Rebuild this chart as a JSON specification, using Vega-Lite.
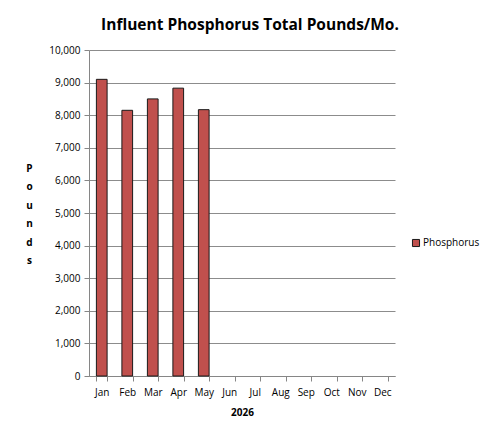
{
  "$schema": "https://vega.github.io/schema/vega-lite/v6.json",
  "width": 306,
  "height": 326,
  "autosize": {"type": "none"},
  "padding": {"left": 89, "top": 50, "right": 92, "bottom": 55},
  "background": "white",
  "title": {
    "text": "Influent Phosphorus Total Pounds/Mo.",
    "font": "Open Sans",
    "fontSize": 15.5,
    "fontWeight": "bold",
    "color": "#000000",
    "anchor": "middle",
    "dx": 8,
    "offset": 12
  },
  "data": {
    "values": [
      {"month": "Jan", "series": "Phosphorus", "pounds": 9100},
      {"month": "Feb", "series": "Phosphorus", "pounds": 8150},
      {"month": "Mar", "series": "Phosphorus", "pounds": 8500},
      {"month": "Apr", "series": "Phosphorus", "pounds": 8830},
      {"month": "May", "series": "Phosphorus", "pounds": 8170},
      {"month": "Jun", "series": "Phosphorus", "pounds": null},
      {"month": "Jul", "series": "Phosphorus", "pounds": null},
      {"month": "Aug", "series": "Phosphorus", "pounds": null},
      {"month": "Sep", "series": "Phosphorus", "pounds": null},
      {"month": "Oct", "series": "Phosphorus", "pounds": null},
      {"month": "Nov", "series": "Phosphorus", "pounds": null},
      {"month": "Dec", "series": "Phosphorus", "pounds": null}
    ]
  },
  "mark": {"type": "bar", "stroke": "#1a1a1a", "strokeWidth": 1},
  "encoding": {
    "x": {
      "field": "month",
      "type": "nominal",
      "sort": null,
      "scale": {
        "domain": ["Jan", "Feb", "Mar", "Apr", "May", "Jun", "Jul", "Aug", "Sep", "Oct", "Nov", "Dec"],
        "paddingInner": 0.58,
        "paddingOuter": 0.29
      },
      "axis": {
        "title": "2026",
        "labelAngle": 0,
        "tickBand": "extent",
        "tickSize": 5,
        "labelPadding": 6,
        "titlePadding": 10,
        "domainColor": "#868686",
        "tickColor": "#868686",
        "labelFont": "Open Sans",
        "labelFontSize": 10,
        "labelColor": "#000000",
        "titleFont": "Open Sans",
        "titleFontSize": 10,
        "titleFontWeight": "bold",
        "titleColor": "#000000"
      }
    },
    "y": {
      "field": "pounds",
      "type": "quantitative",
      "scale": {"domain": [0, 10000], "nice": false},
      "axis": {
        "title": ["P", "o", "u", "n", "d", "s"],
        "titleAngle": 0,
        "titleAlign": "center",
        "titleBaseline": "top",
        "titleX": -60,
        "titleY": 113,
        "titleLineHeight": 18.5,
        "titleFont": "Open Sans",
        "titleFontSize": 10,
        "titleFontWeight": "bold",
        "titleColor": "#000000",
        "values": [0, 1000, 2000, 3000, 4000, 5000, 6000, 7000, 8000, 9000, 10000],
        "format": ",.0f",
        "grid": true,
        "gridColor": "#8c8c8c",
        "gridWidth": 1,
        "domainColor": "#868686",
        "tickColor": "#868686",
        "tickSize": 5,
        "labelPadding": 4,
        "labelFont": "Open Sans",
        "labelFontSize": 10,
        "labelColor": "#000000"
      }
    },
    "color": {
      "field": "series",
      "type": "nominal",
      "scale": {"range": ["#C0504D"]},
      "legend": {
        "title": null,
        "orient": "none",
        "legendX": 322,
        "legendY": 188,
        "symbolType": "square",
        "symbolSize": 50,
        "symbolStrokeColor": "#1a1a1a",
        "symbolStrokeWidth": 1,
        "labelFont": "Open Sans",
        "labelFontSize": 10,
        "labelColor": "#000000",
        "labelOffset": 2
      }
    }
  },
  "config": {
    "view": {"stroke": null}
  }
}
